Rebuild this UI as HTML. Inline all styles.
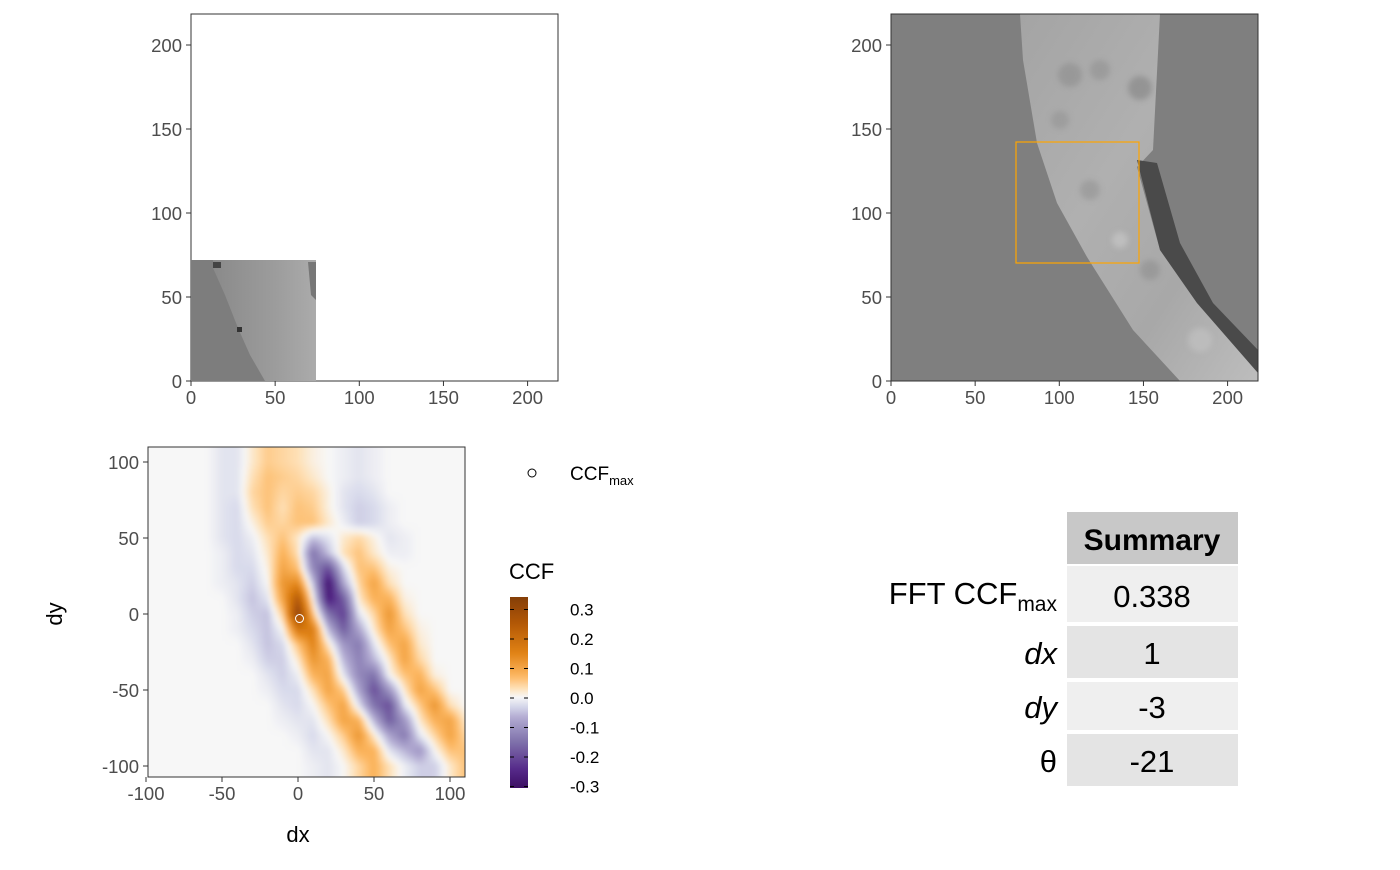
<!DOCTYPE html>
<html><head><meta charset="utf-8">
<style>
body{margin:0;background:#fff;width:1400px;height:865px;overflow:hidden;font-family:"Liberation Sans",Arial,sans-serif}
svg text{font-family:"Liberation Sans",Arial,sans-serif}
</style></head>
<body>
<svg id="chart" width="1400" height="865" viewBox="0 0 1400 865" xmlns="http://www.w3.org/2000/svg">
<defs>
<linearGradient id="bandG" x1="0" y1="0" x2="1" y2="1">
<stop offset="0" stop-color="#a4a4a4"/><stop offset="0.4" stop-color="#b0b0b0"/><stop offset="0.7" stop-color="#a8a8a8"/><stop offset="1" stop-color="#bdbdbd"/></linearGradient>
<linearGradient id="smallG" x1="0" y1="0" x2="1" y2="0">
<stop offset="0" stop-color="#8a8a8a"/><stop offset="0.6" stop-color="#9c9c9c"/><stop offset="1" stop-color="#ababab"/></linearGradient>
<filter id="soft"><feGaussianBlur stdDeviation="3"/></filter>
<filter id="hsoft" x="-5%" y="-5%" width="110%" height="110%"><feGaussianBlur stdDeviation="2.5"/></filter>
<clipPath id="heatClip"><rect x="148" y="447" width="317" height="330"/></clipPath>
<clipPath id="trClip"><rect x="891" y="14" width="367" height="367"/></clipPath>
<linearGradient id="legG" x1="0" y1="0" x2="0" y2="1">
</linearGradient>
</defs>

<g>
<rect x="191" y="14" width="367" height="367" fill="#fff" stroke="#333" stroke-width="1"/>
<g>
<rect x="191" y="260" width="125" height="121" fill="#7d7d7d"/>
<polygon points="213,260 316,260 316,381 265,381 250,355 238,328 225,295 213,268" fill="url(#smallG)"/>
<polygon points="308,262 316,262 316,300 311,295" fill="#777"/>
<rect x="213" y="262" width="8" height="6" fill="#444"/>
<rect x="237" y="327" width="5" height="5" fill="#333"/>
</g>
<g id="tlAxes"></g>
</g>

<g>
<g clip-path="url(#trClip)">
<rect x="891" y="14" width="367" height="367" fill="#7f7f7f"/>
<polygon points="1020,14 1160,14 1153,150 1137,167 1160,250 1197,303 1258,373 1258,381 1180,381 1133,330 1087,257 1057,203 1037,143 1023,60" fill="url(#bandG)"/>
<polygon points="1137,160 1157,163 1180,243 1213,303 1258,350 1258,373 1197,303 1160,250" fill="#4a4a4a"/>
<g filter="url(#soft)" opacity="0.5">
<circle cx="1070" cy="75" r="12" fill="#888"/><circle cx="1100" cy="70" r="10" fill="#8c8c8c"/>
<circle cx="1140" cy="88" r="12" fill="#7a7a7a"/><circle cx="1060" cy="120" r="9" fill="#909090"/>
<circle cx="1090" cy="190" r="10" fill="#8e8e8e"/><circle cx="1120" cy="240" r="8" fill="#d0d0d0"/>
<circle cx="1150" cy="270" r="10" fill="#8a8a8a"/><circle cx="1200" cy="340" r="12" fill="#c8c8c8"/>
</g>
</g>
<rect x="891" y="14" width="367" height="367" fill="none" stroke="#333" stroke-width="1"/>
<rect x="1016" y="142" width="123" height="121" fill="none" stroke="#FFA500" stroke-width="1.2"/>
<g id="trAxes"></g>
</g>

<g>
<rect x="148" y="447" width="317" height="330" fill="#f7f7f7"/>
<g clip-path="url(#heatClip)"><g id="heat" filter="url(#hsoft)"></g></g>
<g id="peakG"></g>
<rect x="148" y="447" width="317" height="330" fill="none" stroke="#333" stroke-width="1"/>
<g id="heatAxes"></g>
<text x="298" y="842" text-anchor="middle" font-size="22" fill="#000">dx</text>
<text transform="translate(62,614) rotate(-90)" text-anchor="middle" font-size="22" fill="#000">dy</text>
</g>

<g>
<circle cx="532" cy="473" r="4" fill="#fff" stroke="#000" stroke-width="1"/>
<text x="570" y="480" font-size="19" fill="#000">CCF<tspan font-size="13" dy="5">max</tspan></text>
</g>
<g>
<text x="509" y="579" font-size="22" fill="#000">CCF</text>
<rect x="510" y="597" width="18" height="191" fill="url(#legG)"/>
<g id="legTicks"></g>
</g>

<g font-size="31">
<rect x="1067" y="512" width="171" height="52" fill="#c8c8c8"/>
<text x="1152" y="550" text-anchor="middle" font-weight="bold" font-size="30" fill="#000">Summary</text>
<rect x="1067" y="566" width="171" height="56" fill="#efefef"/>
<rect x="1067" y="626" width="171" height="52" fill="#e4e4e4"/>
<rect x="1067" y="682" width="171" height="48" fill="#efefef"/>
<rect x="1067" y="734" width="171" height="52" fill="#e4e4e4"/>
<text x="1057" y="604" text-anchor="end" fill="#000">FFT CCF<tspan font-size="21" dy="7">max</tspan></text>
<text x="1152" y="607" text-anchor="middle" fill="#000">0.338</text>
<text x="1057" y="664" text-anchor="end" font-style="italic" fill="#000">dx</text>
<text x="1152" y="664" text-anchor="middle" fill="#000">1</text>
<text x="1057" y="718" text-anchor="end" font-style="italic" fill="#000">dy</text>
<text x="1152" y="718" text-anchor="middle" fill="#000">-3</text>
<text x="1057" y="772" text-anchor="end" font-family="Liberation Serif,serif" fill="#000">θ</text>
<text x="1152" y="772" text-anchor="middle" fill="#000">-21</text>
</g>
</svg>
<script>
const dxs=[-60,-50,-40,-30,-20,-10,0,10,20,30,40,50,60,70,80,90,100,110];
const dys=[100,90,80,70,60,50,40,30,20,10,0,-10,-20,-30,-40,-50,-60,-70,-80,-90,-100];
const ccfGrid=[
[0,-0.02,-0.02,0.02,0.05,0.04,0.03,0.01,0,-0.01,-0.02,-0.01,0,0,0,0,0,0],
[0,-0.02,-0.02,0.03,0.06,0.05,0.04,0.02,0,-0.01,-0.02,-0.01,0,0,0,0,0,0],
[0,-0.02,-0.02,0.04,0.06,0.04,0.05,0.04,0.01,-0.02,-0.03,-0.02,0,0,0,0,0,0],
[0,-0.02,-0.03,0.03,0.06,0.03,0.06,0.05,0.01,-0.02,-0.04,-0.03,-0.01,0,0,0,0,0],
[0,-0.02,-0.03,0.01,0.05,0.04,0.06,0.06,0.02,-0.01,-0.04,-0.03,-0.01,0,0,0,0,0],
[0,-0.02,-0.03,-0.01,0.03,0.06,0.02,-0.05,-0.02,0.02,0.04,0.01,-0.02,-0.01,0,0,0,0],
[0,-0.01,-0.03,-0.02,0.02,0.08,0.03,-0.15,-0.05,0.03,0.06,0.02,-0.01,-0.01,0,0,0,0],
[0,-0.01,-0.03,-0.03,0.01,0.1,0.06,-0.12,-0.2,-0.03,0.06,0.06,0.01,0,0,0,0,0],
[0,-0.01,-0.02,-0.04,0.0,0.12,0.14,-0.05,-0.3,-0.08,0.04,0.1,0.03,0,0,0,0,0],
[0,0,-0.02,-0.05,-0.02,0.1,0.25,0.0,-0.28,-0.18,0.02,0.08,0.08,0.01,0,0,0,0],
[0,0,-0.01,-0.04,-0.05,0.05,0.32,0.06,-0.15,-0.22,-0.02,0.04,0.12,0.03,0,0,0,0],
[0,0,-0.01,-0.03,-0.05,0.0,0.18,0.16,-0.06,-0.18,-0.08,0.02,0.1,0.06,0.01,0,0,0],
[0,0,0,-0.02,-0.05,-0.03,0.06,0.15,0.02,-0.1,-0.14,-0.02,0.06,0.1,0.02,0,0,0],
[0,0,0,-0.01,-0.04,-0.04,0.02,0.12,0.08,-0.06,-0.13,-0.06,0.02,0.1,0.04,0,0,0],
[0,0,0,0,-0.02,-0.04,-0.01,0.08,0.1,-0.02,-0.12,-0.15,0,0.06,0.08,0.01,0,0],
[0,0,0,0,-0.01,-0.03,-0.03,0.03,0.1,0.05,-0.08,-0.2,-0.1,0.02,0.1,0.06,0,0],
[0,0,0,0,0,-0.02,-0.03,0.0,0.06,0.1,-0.02,-0.15,-0.2,-0.02,0.05,0.12,0.03,0],
[0,0,0,0,0,-0.01,-0.02,-0.02,0.03,0.1,0.08,-0.06,-0.18,-0.1,0.02,0.08,0.1,0.02],
[0,0,0,0,0,0,-0.01,-0.03,0.0,0.05,0.12,0.02,-0.08,-0.14,-0.02,0.04,0.1,0.04],
[0,0,0,0,0,0,0,-0.02,-0.02,0.02,0.08,0.08,-0.02,-0.06,-0.1,0.0,0.06,0.06],
[0,0,0,0,0,0,0,-0.01,-0.02,0,0.04,0.08,0.03,-0.01,-0.04,-0.04,0.02,0.06]];
const peakDx=[1];
const peakDy=[-3];
const heatTicks=[-100,-50,0,50,100];
const imgTicks=[0,50,100,150,200];
const legTickVals=[0.3,0.2,0.1,0.0,-0.1,-0.2,-0.3];
const legTickLabels=["0.3","0.2","0.1","0.0","-0.1","-0.2","-0.3"];

const NS="http://www.w3.org/2000/svg";
function mk(tag,attrs,parent){const e=document.createElementNS(NS,tag);for(const k in attrs)e.setAttribute(k,attrs[k]);parent.appendChild(e);return e;}
const hx=v=>298+v*1.52, hy=v=>614-v*1.52;
const tlx=v=>191+v*1.683, tly=v=>381-v*1.68, trx=v=>891+v*1.683;
const lgy=v=>698-v*295;

const stops=[[-0.35,[45,0,75]],[-0.25,[84,39,136]],[-0.15,[128,115,172]],[-0.07,[178,171,210]],[-0.03,[216,218,235]],[0,[247,247,247]],[0.03,[254,224,182]],[0.07,[253,184,99]],[0.15,[224,130,20]],[0.25,[179,88,6]],[0.35,[127,59,8]]];
function col(v){if(v<=stops[0][0])return stops[0][1];for(let i=1;i<stops.length;i++){if(v<=stops[i][0]){const a=stops[i-1],b=stops[i],t=(v-a[0])/(b[0]-a[0]);return a[1].map((c,j)=>Math.round(c+(b[1][j]-c)*t));}}return stops[stops.length-1][1];}
function rgb(c){return `rgb(${c[0]},${c[1]},${c[2]})`;}
function sample(dx,dy){
  let fi=(dx-dxs[0])/(dxs[1]-dxs[0]), fj=(dy-dys[0])/(dys[1]-dys[0]);
  fi=Math.max(0,Math.min(dxs.length-1.0001,fi)); fj=Math.max(0,Math.min(dys.length-1.0001,fj));
  const i=Math.floor(fi),j=Math.floor(fj),a=fi-i,b=fj-j;
  const v00=ccfGrid[j][i],v10=ccfGrid[j][i+1],v01=ccfGrid[j+1][i],v11=ccfGrid[j+1][i+1];
  return (v00*(1-a)+v10*a)*(1-b)+(v01*(1-a)+v11*a)*b;
}
const heat=document.getElementById('heat');
const step=3;
for(let px=140;px<472;px+=step){for(let py=440;py<784;py+=step){
  const dx=(px+step/2-298)/1.52, dy=(614-(py+step/2))/1.52;
  const r=mk('rect',{x:px,y:py,width:step+0.4,height:step+0.4,fill:rgb(col(sample(dx,dy)))},heat);
  
  
}}
const pk=mk('circle',{cx:hx(peakDx[0]),cy:hy(peakDy[0]),r:4,fill:'none',stroke:'#fff','stroke-width':1},document.getElementById('peakG'));



function axes(g,xs,ys,xf,yf,x0,y0){
  xs.forEach(v=>{mk('line',{x1:xf(v),x2:xf(v),y1:y0,y2:y0+5,stroke:'#333'},g);
    const t=mk('text',{x:xf(v),y:y0+23,'text-anchor':'middle','font-size':18.5,fill:'#4d4d4d'},g);t.textContent=v;
    
    });
  ys.forEach(v=>{mk('line',{x1:x0-5,x2:x0,y1:yf(v),y2:yf(v),stroke:'#333'},g);
    const t=mk('text',{x:x0-9,y:yf(v)+7,'text-anchor':'end','font-size':18.5,fill:'#4d4d4d'},g);t.textContent=v;
    
    });
}
axes(document.getElementById('tlAxes'),imgTicks,imgTicks,tlx,tly,191,381);
axes(document.getElementById('trAxes'),imgTicks,imgTicks,trx,tly,891,381);
axes(document.getElementById('heatAxes'),heatTicks,heatTicks,hx,hy,148,777);

const lg=document.getElementById('legG');
for(let k=0;k<=40;k++){const v=0.34-k*(0.65/40);mk('stop',{offset:k/40,'stop-color':rgb(col(v))},lg);}
const lt=document.getElementById('legTicks');
legTickVals.forEach((v,i)=>{
  mk('line',{x1:510,x2:514,y1:lgy(v),y2:lgy(v),stroke:'#000'},lt);
  mk('line',{x1:524,x2:528,y1:lgy(v),y2:lgy(v),stroke:'#000'},lt);
  const t=mk('text',{x:570,y:lgy(v)+6,'font-size':17,fill:'#000'},lt);t.textContent=legTickLabels[i];
  
  
});
</script>
</body></html>
